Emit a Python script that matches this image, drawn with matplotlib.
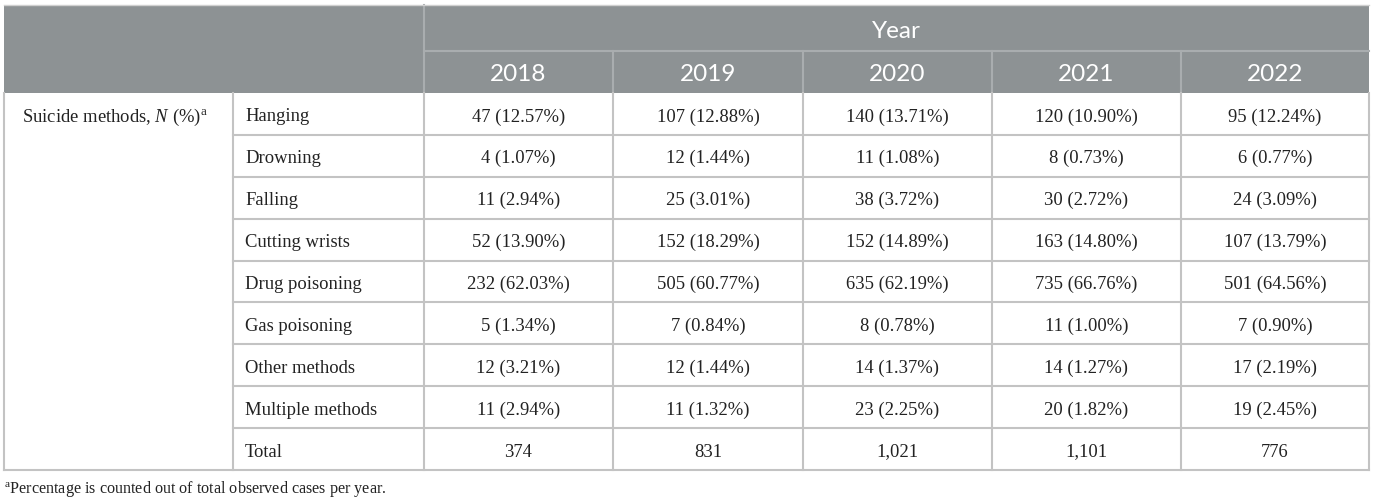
import matplotlib
matplotlib.use("Agg")
import matplotlib.pyplot as plt
from matplotlib.patches import Rectangle

years = ["2018", "2019", "2020", "2021", "2022"]
methods = ["Hanging", "Drowning", "Falling", "Cutting wrists", "Drug poisoning",
           "Gas poisoning", "Other methods", "Multiple methods"]
counts = {
    "2018": [47, 4, 11, 52, 232, 5, 12, 11],
    "2019": [107, 12, 25, 152, 505, 7, 12, 11],
    "2020": [140, 11, 38, 152, 635, 8, 14, 23],
    "2021": [120, 8, 30, 163, 735, 11, 14, 20],
    "2022": [95, 6, 24, 107, 501, 7, 17, 19],
}
percents = {
    "2018": ["12.57", "1.07", "2.94", "13.90", "62.03", "1.34", "3.21", "2.94"],
    "2019": ["12.88", "1.44", "3.01", "18.29", "60.77", "0.84", "1.44", "1.32"],
    "2020": ["13.71", "1.08", "3.72", "14.89", "62.19", "0.78", "1.37", "2.25"],
    "2021": ["10.90", "0.73", "2.72", "14.80", "66.76", "1.00", "1.27", "1.82"],
    "2022": ["12.24", "0.77", "3.09", "13.79", "64.56", "0.90", "2.19", "2.45"],
}
totals = ["374", "831", "1,021", "1,101", "776"]
header_top = "Year"
group_label = "Suicide methods, $\\it{N}$ (%)$^{\\rm a}$"
total_label = "Total"
footnote = "$^{\\rm a}$Percentage is counted out of total observed cases per year."

plt.rcParams['mathtext.fontset'] = 'custom'
plt.rcParams['mathtext.rm'] = 'Liberation Serif'
plt.rcParams['mathtext.it'] = 'Liberation Serif:italic'

W, H = 1375, 504
fig = plt.figure(figsize=(W / 100, H / 100), dpi=100)
ax = fig.add_axes([0, 0, 1, 1])
ax.set_xlim(0, W)
ax.set_ylim(H, 0)
ax.axis("off")

# layout
left, right = 4, 1369
col_x = [4, 233, 424, 613, 803, 992, 1181, 1369]
h_top, h_mid, h_bot = 5, 51, 93
body_bot = 470
n_rows = len(methods) + 1
row_h = (body_bot - h_bot) / n_rows

hdr_color = "#8d9294"
hdr_line = "#a9adaf"
grid = "#c3c3c3"
txt = "#222222"
serif = "Liberation Serif"
sans = "Lato"

ax.add_patch(Rectangle((left, h_top), right - left, h_bot - h_top, facecolor=hdr_color,
                       edgecolor="none", zorder=1))
# header lines
ax.plot([col_x[2], right], [h_mid, h_mid], color=hdr_line, lw=1.5, zorder=2)
ax.plot([col_x[2], col_x[2]], [h_top, h_bot], color=hdr_line, lw=1.5, zorder=2)
for cx in col_x[3:-1]:
    ax.plot([cx, cx], [h_mid, h_bot], color=hdr_line, lw=1.5, zorder=2)
ax.plot([left, right], [h_top - 0.5, h_top - 0.5], color="#d0d0d0", lw=1, zorder=2)

ax.text((col_x[2] + right) / 2, (h_top + h_mid) / 2 + 3, header_top, ha="center", va="center",
        color="white", fontsize=17.5, family=sans)
for i, y in enumerate(years):
    ax.text((col_x[2 + i] + col_x[3 + i]) / 2, (h_mid + h_bot) / 2 + 2.5, y, ha="center",
            va="center", color="white", fontsize=17.5, family=sans)

# body grid
for r in range(1, n_rows):
    yy = h_bot + r * row_h
    ax.plot([col_x[1], right], [yy, yy], color=grid, lw=1.5, zorder=2)
ax.plot([left, right], [body_bot, body_bot], color=grid, lw=1.5, zorder=2)
for cx in col_x:
    ax.plot([cx, cx], [h_bot, body_bot], color=grid, lw=1.5, zorder=2)

# body text
fs = 13.4
off = 3
ax.text(22, h_bot + row_h / 2 + off, group_label, ha="left", va="center", color=txt,
        fontsize=fs, family=serif)
labels = methods + [total_label]
for r, lab in enumerate(labels):
    yc = h_bot + (r + 0.5) * row_h + off
    ax.text(245, yc, lab, ha="left", va="center", color=txt, fontsize=fs, family=serif)
    for i, y in enumerate(years):
        if r < len(methods):
            s = f"{counts[y][r]} ({percents[y][r]}%)"
        else:
            s = totals[i]
        ax.text((col_x[2 + i] + col_x[3 + i]) / 2, yc, s, ha="center", va="center",
                color=txt, fontsize=fs, family=serif)

ax.text(4, 489, footnote, ha="left", va="center", color=txt, fontsize=11.6, family=serif)

fig.savefig("out.png", dpi=100)
